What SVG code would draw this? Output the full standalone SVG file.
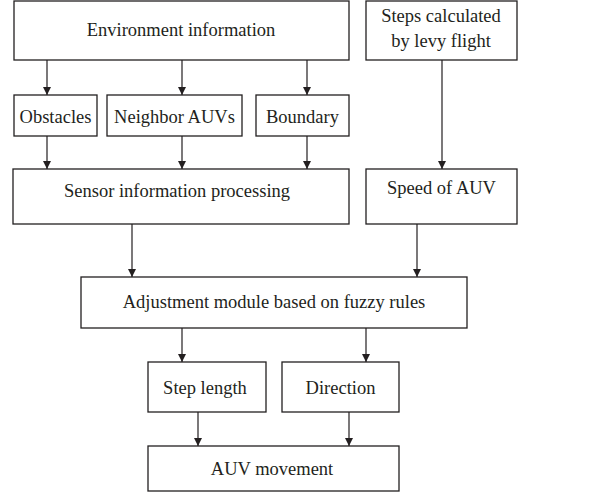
<svg xmlns="http://www.w3.org/2000/svg" width="612" height="494" viewBox="0 0 612 494">
<defs>
<marker id="ah" markerWidth="8" markerHeight="10" refX="8" refY="4" orient="auto" markerUnits="userSpaceOnUse" viewBox="0 0 8 8">
<path d="M0,0 L8,4 L0,8 Z" fill="#231f20"/>
</marker>
<style>
.box{fill:#fff;stroke:#231f20;stroke-width:1.3}
.t{font-family:'Liberation Serif','DejaVu Serif',serif;font-size:18.5px;fill:#231f20;text-anchor:middle}
.c{stroke:#231f20;stroke-width:1.2;fill:none;marker-end:url(#ah)}
</style>
</defs>
<rect width="612" height="494" fill="#fff"/>
<g id="env"><rect class="box" x="14" y="1" width="335" height="59"/><text class="t" x="181" y="36">Environment information</text></g>
<g id="levy"><rect class="box" x="366" y="1" width="151" height="59"/><text class="t" x="441" y="22">Steps calculated</text><text class="t" x="441" y="47">by levy flight</text></g>
<g id="obstacles"><rect class="box" x="14" y="95" width="83" height="41"/><text class="t" x="55.5" y="123">Obstacles</text></g>
<g id="neighbor"><rect class="box" x="107" y="95" width="135" height="41"/><text class="t" x="174.5" y="123">Neighbor AUVs</text></g>
<g id="boundary"><rect class="box" x="256" y="95" width="93" height="41"/><text class="t" x="302.5" y="123">Boundary</text></g>
<g id="sensor"><rect class="box" x="13" y="169" width="336" height="55"/><text class="t" x="177" y="197">Sensor information processing</text></g>
<g id="speed"><rect class="box" x="366" y="169" width="151" height="55"/><text class="t" x="441.5" y="194">Speed of AUV</text></g>
<g id="adjust"><rect class="box" x="81" y="277" width="386" height="51"/><text class="t" x="274" y="308">Adjustment module based on fuzzy rules</text></g>
<g id="steplen"><rect class="box" x="148" y="362" width="118" height="50"/><text class="t" x="205" y="394">Step length</text></g>
<g id="direction"><rect class="box" x="282" y="362" width="117" height="50"/><text class="t" x="340.5" y="394">Direction</text></g>
<g id="movement"><rect class="box" x="148" y="446" width="251" height="45"/><text class="t" x="272" y="475">AUV movement</text></g>
<g id="connectors">
<line class="c" x1="47" y1="60" x2="47" y2="95"/>
<line class="c" x1="182" y1="60" x2="182" y2="95"/>
<line class="c" x1="307" y1="60" x2="307" y2="95"/>
<line class="c" x1="47" y1="136" x2="47" y2="169"/>
<line class="c" x1="182" y1="136" x2="182" y2="169"/>
<line class="c" x1="307" y1="136" x2="307" y2="169"/>
<line class="c" x1="442" y1="60" x2="442" y2="169"/>
<line class="c" x1="132" y1="224" x2="132" y2="277"/>
<line class="c" x1="417" y1="224" x2="417" y2="277"/>
<line class="c" x1="182" y1="328" x2="182" y2="362"/>
<line class="c" x1="366" y1="328" x2="366" y2="362"/>
<line class="c" x1="198" y1="412" x2="198" y2="446"/>
<line class="c" x1="349" y1="412" x2="349" y2="446"/>
</g>
</svg>
